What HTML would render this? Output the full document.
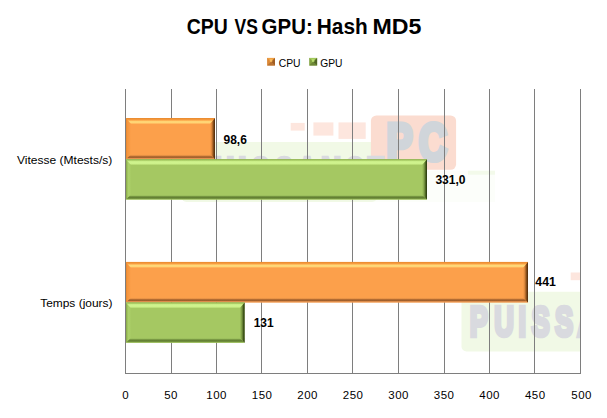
<!DOCTYPE html>
<html lang="fr"><head><meta charset="utf-8"><title>CPU VS GPU: Hash MD5</title>
<style>html,body{margin:0;padding:0;background:#fff;}body{width:607px;height:418px;overflow:hidden;}</style></head>
<body>
<svg width="607" height="418" viewBox="0 0 607 418" style="display:block">
<rect width="607" height="418" fill="#fff"/>
<defs><clipPath id="plot"><rect x="126" y="89" width="454" height="284"/></clipPath></defs>
<g clip-path="url(#plot)"><g transform="translate(181,142.1)"><rect x="186" y="28.6" width="128" height="31.2" fill="#FCFEFA"/><rect x="287" y="28.6" width="27" height="4" fill="#F3FAEA"/><rect x="0.5" y="0" width="195.5" height="59.8" rx="5" fill="#F1F9E6"/><rect x="189.9" y="-26.6" width="85.2" height="54.3" rx="5.5" fill="#FBDCD0"/><rect x="109.7" y="-19.2" width="14" height="7.7" fill="#FDE6DE"/><rect x="132.4" y="-19.7" width="20" height="13.2" fill="#FDE6DE"/><rect x="157.5" y="-19.7" width="27.2" height="16.5" fill="#FDE6DE"/><g font-family="'Liberation Sans', sans-serif" font-weight="bold"><text transform="translate(0,44.60) scale(0.272,0.4331)" x="32.5 122.4 211.7 259.4 345.5 427.6 515.4 601.1 682.2" y="0" font-size="100" fill="#D9DADF" stroke="#D9DADF" stroke-width="3.8" vector-effect="non-scaling-stroke" stroke-linejoin="miter">PUISSANCE</text><text transform="translate(0,17.50) scale(0.39,0.5160)" x="526.8 609.9" y="0" font-size="100" fill="#D0D5DA" stroke="#D0D5DA" stroke-width="4.6" vector-effect="non-scaling-stroke" stroke-linejoin="miter">PC</text></g></g><g transform="translate(461,291.7)"><rect x="186" y="28.6" width="128" height="31.2" fill="#FCFEFA"/><rect x="287" y="28.6" width="27" height="4" fill="#F3FAEA"/><rect x="0.5" y="0" width="195.5" height="59.8" rx="5" fill="#F1F9E6"/><rect x="189.9" y="-26.6" width="85.2" height="54.3" rx="5.5" fill="#FBDCD0"/><rect x="109.7" y="-19.2" width="14" height="7.7" fill="#FDE6DE"/><rect x="132.4" y="-19.7" width="20" height="13.2" fill="#FDE6DE"/><rect x="157.5" y="-19.7" width="27.2" height="16.5" fill="#FDE6DE"/><g font-family="'Liberation Sans', sans-serif" font-weight="bold"><text transform="translate(0,44.60) scale(0.272,0.4331)" x="32.5 122.4 211.7 259.4 345.5 427.6 515.4 601.1 682.2" y="0" font-size="100" fill="#D9DADF" stroke="#D9DADF" stroke-width="3.8" vector-effect="non-scaling-stroke" stroke-linejoin="miter">PUISSANCE</text><text transform="translate(0,17.50) scale(0.39,0.5160)" x="526.8 609.9" y="0" font-size="100" fill="#D0D5DA" stroke="#D0D5DA" stroke-width="4.6" vector-effect="non-scaling-stroke" stroke-linejoin="miter">PC</text></g></g></g>
<rect x="125" y="89" width="1" height="285" fill="#7E7E7E"/>
<rect x="171" y="89" width="1" height="285" fill="#7E7E7E"/>
<rect x="216" y="89" width="1" height="285" fill="#7E7E7E"/>
<rect x="261" y="89" width="1" height="285" fill="#7E7E7E"/>
<rect x="307" y="89" width="1" height="285" fill="#7E7E7E"/>
<rect x="352" y="89" width="1" height="285" fill="#7E7E7E"/>
<rect x="398" y="89" width="1" height="285" fill="#7E7E7E"/>
<rect x="444" y="89" width="1" height="285" fill="#7E7E7E"/>
<rect x="489" y="89" width="1" height="285" fill="#7E7E7E"/>
<rect x="534" y="89" width="1" height="285" fill="#7E7E7E"/>
<rect x="580" y="89" width="1" height="285" fill="#7E7E7E"/>
<rect x="125" y="373" width="456" height="1" fill="#7E7E7E"/>
<defs><linearGradient id="b1t" x1="0" y1="0" x2="0" y2="1"><stop offset="0" stop-color="#E88A2E"/><stop offset="0.2" stop-color="#F29438"/><stop offset="0.36" stop-color="#FBA448"/><stop offset="0.47" stop-color="#FFC868"/><stop offset="0.6" stop-color="#FFD878"/><stop offset="0.8" stop-color="#FFD474"/><stop offset="0.92" stop-color="#FFB65C"/><stop offset="1" stop-color="#FCA04B"/></linearGradient><linearGradient id="b1l" x1="0" y1="0" x2="1" y2="0"><stop offset="0" stop-color="#E4842C"/><stop offset="0.25" stop-color="#F4943C"/><stop offset="1" stop-color="#FCA04B"/></linearGradient><linearGradient id="b1b" x1="0" y1="0" x2="0" y2="1"><stop offset="0" stop-color="#FCA04B"/><stop offset="0.2" stop-color="#F09848"/><stop offset="0.38" stop-color="#B87034"/><stop offset="0.6" stop-color="#9C5C2A"/><stop offset="0.72" stop-color="#B87238"/><stop offset="0.85" stop-color="#E89450"/><stop offset="1" stop-color="#EE9C56"/></linearGradient><linearGradient id="b1r" x1="0" y1="0" x2="1" y2="0"><stop offset="0" stop-color="#FCA04B"/><stop offset="0.25" stop-color="#E89042"/><stop offset="0.55" stop-color="#A86426"/><stop offset="0.8" stop-color="#6A3C12"/><stop offset="1" stop-color="#4E2A0A"/></linearGradient></defs><rect x="126" y="118.1" width="89" height="41.20000000000002" fill="#FCA04B"/><polygon points="126,118.1 131,124.1 131,154.3 126,159.3" fill="url(#b1l)"/><polygon points="126,118.1 215,118.1 210,124.1 131,124.1" fill="url(#b1t)"/><polygon points="126,159.3 131,154.3 210,154.3 215,159.3" fill="url(#b1b)"/><polygon points="215,118.1 215,159.3 210,154.3 210,124.1" fill="url(#b1r)"/>
<defs><linearGradient id="b2t" x1="0" y1="0" x2="0" y2="1"><stop offset="0" stop-color="#8CB04C"/><stop offset="0.14" stop-color="#9CC058"/><stop offset="0.27" stop-color="#C4E882"/><stop offset="0.45" stop-color="#D0F48E"/><stop offset="0.75" stop-color="#CCF08A"/><stop offset="0.9" stop-color="#B4D870"/><stop offset="1" stop-color="#A5C862"/></linearGradient><linearGradient id="b2l" x1="0" y1="0" x2="1" y2="0"><stop offset="0" stop-color="#84A444"/><stop offset="0.2" stop-color="#98BA56"/><stop offset="0.45" stop-color="#ACD069"/><stop offset="0.8" stop-color="#AACE67"/><stop offset="1" stop-color="#A5C862"/></linearGradient><linearGradient id="b2b" x1="0" y1="0" x2="0" y2="1"><stop offset="0" stop-color="#A5C862"/><stop offset="0.22" stop-color="#9ABE5C"/><stop offset="0.42" stop-color="#6C8A3A"/><stop offset="0.68" stop-color="#5E7A30"/><stop offset="0.82" stop-color="#7C9C44"/><stop offset="1" stop-color="#9CC05C"/></linearGradient><linearGradient id="b2r" x1="0" y1="0" x2="1" y2="0"><stop offset="0" stop-color="#A5C862"/><stop offset="0.25" stop-color="#94B456"/><stop offset="0.55" stop-color="#6A8838"/><stop offset="0.8" stop-color="#3C5018"/><stop offset="1" stop-color="#28380E"/></linearGradient></defs><rect x="126" y="159.3" width="301" height="40.29999999999998" fill="#A5C862"/><polygon points="126,159.3 131,165.3 131,194.6 126,199.6" fill="url(#b2l)"/><polygon points="126,159.3 427,159.3 422,165.3 131,165.3" fill="url(#b2t)"/><polygon points="126,199.6 131,194.6 422,194.6 427,199.6" fill="url(#b2b)"/><polygon points="427,159.3 427,199.6 422,194.6 422,165.3" fill="url(#b2r)"/>
<defs><linearGradient id="b3t" x1="0" y1="0" x2="0" y2="1"><stop offset="0" stop-color="#E88A2E"/><stop offset="0.2" stop-color="#F29438"/><stop offset="0.36" stop-color="#FBA448"/><stop offset="0.47" stop-color="#FFC868"/><stop offset="0.6" stop-color="#FFD878"/><stop offset="0.8" stop-color="#FFD474"/><stop offset="0.92" stop-color="#FFB65C"/><stop offset="1" stop-color="#FCA04B"/></linearGradient><linearGradient id="b3l" x1="0" y1="0" x2="1" y2="0"><stop offset="0" stop-color="#E4842C"/><stop offset="0.25" stop-color="#F4943C"/><stop offset="1" stop-color="#FCA04B"/></linearGradient><linearGradient id="b3b" x1="0" y1="0" x2="0" y2="1"><stop offset="0" stop-color="#FCA04B"/><stop offset="0.2" stop-color="#F09848"/><stop offset="0.38" stop-color="#B87034"/><stop offset="0.6" stop-color="#9C5C2A"/><stop offset="0.72" stop-color="#B87238"/><stop offset="0.85" stop-color="#E89450"/><stop offset="1" stop-color="#EE9C56"/></linearGradient><linearGradient id="b3r" x1="0" y1="0" x2="1" y2="0"><stop offset="0" stop-color="#FCA04B"/><stop offset="0.25" stop-color="#E89042"/><stop offset="0.55" stop-color="#A86426"/><stop offset="0.8" stop-color="#6A3C12"/><stop offset="1" stop-color="#4E2A0A"/></linearGradient></defs><rect x="126" y="261.9" width="402" height="40.5" fill="#FCA04B"/><polygon points="126,261.9 131,267.9 131,297.4 126,302.4" fill="url(#b3l)"/><polygon points="126,261.9 528,261.9 523,267.9 131,267.9" fill="url(#b3t)"/><polygon points="126,302.4 131,297.4 523,297.4 528,302.4" fill="url(#b3b)"/><polygon points="528,261.9 528,302.4 523,297.4 523,267.9" fill="url(#b3r)"/>
<defs><linearGradient id="b4t" x1="0" y1="0" x2="0" y2="1"><stop offset="0" stop-color="#8CB04C"/><stop offset="0.14" stop-color="#9CC058"/><stop offset="0.27" stop-color="#C4E882"/><stop offset="0.45" stop-color="#D0F48E"/><stop offset="0.75" stop-color="#CCF08A"/><stop offset="0.9" stop-color="#B4D870"/><stop offset="1" stop-color="#A5C862"/></linearGradient><linearGradient id="b4l" x1="0" y1="0" x2="1" y2="0"><stop offset="0" stop-color="#84A444"/><stop offset="0.2" stop-color="#98BA56"/><stop offset="0.45" stop-color="#ACD069"/><stop offset="0.8" stop-color="#AACE67"/><stop offset="1" stop-color="#A5C862"/></linearGradient><linearGradient id="b4b" x1="0" y1="0" x2="0" y2="1"><stop offset="0" stop-color="#A5C862"/><stop offset="0.22" stop-color="#9ABE5C"/><stop offset="0.42" stop-color="#6C8A3A"/><stop offset="0.68" stop-color="#5E7A30"/><stop offset="0.82" stop-color="#7C9C44"/><stop offset="1" stop-color="#9CC05C"/></linearGradient><linearGradient id="b4r" x1="0" y1="0" x2="1" y2="0"><stop offset="0" stop-color="#A5C862"/><stop offset="0.25" stop-color="#94B456"/><stop offset="0.55" stop-color="#6A8838"/><stop offset="0.8" stop-color="#3C5018"/><stop offset="1" stop-color="#28380E"/></linearGradient></defs><rect x="126" y="302.4" width="118.6" height="40.30000000000001" fill="#A5C862"/><polygon points="126,302.4 131,308.4 131,337.7 126,342.7" fill="url(#b4l)"/><polygon points="126,302.4 244.6,302.4 239.6,308.4 131,308.4" fill="url(#b4t)"/><polygon points="126,342.7 131,337.7 239.6,337.7 244.6,342.7" fill="url(#b4b)"/><polygon points="244.6,302.4 244.6,342.7 239.6,337.7 239.6,308.4" fill="url(#b4r)"/>
<text y="34.0" font-family="'Liberation Sans', sans-serif" font-weight="bold" font-size="22" fill="#000"><tspan x="186.7" textLength="41" lengthAdjust="spacingAndGlyphs">CPU</tspan> <tspan x="234.5" textLength="23.3" lengthAdjust="spacingAndGlyphs">VS</tspan> <tspan x="261.6" textLength="51.1" lengthAdjust="spacingAndGlyphs">GPU:</tspan> <tspan x="316.8" textLength="50.9" lengthAdjust="spacingAndGlyphs">Hash</tspan> <tspan x="372.4" textLength="48.9" lengthAdjust="spacingAndGlyphs">MD5</tspan></text>
<rect x="267.1" y="57.9" width="7.9" height="7.6" fill="#DC8836"/><polygon points="267.1,57.9 275.0,57.9 271.05,61.699999999999996" fill="#EFA044"/><polygon points="275.0,57.9 275.0,65.5 271.05,61.699999999999996" fill="#A05E24"/><polygon points="267.1,65.5 275.0,65.5 271.05,61.699999999999996" fill="#B87232"/><rect x="269.85" y="59.199999999999996" width="2.4" height="2.6" fill="#F8BC5C"/>
<rect x="309.2" y="57.9" width="7.9" height="7.6" fill="#82A240"/><polygon points="309.2,57.9 317.09999999999997,57.9 313.15,61.699999999999996" fill="#A2C85C"/><polygon points="317.09999999999997,57.9 317.09999999999997,65.5 313.15,61.699999999999996" fill="#506626"/><polygon points="309.2,65.5 317.09999999999997,65.5 313.15,61.699999999999996" fill="#6C8636"/><rect x="311.95" y="59.199999999999996" width="2.4" height="2.6" fill="#B8DC70"/>
<text x="278.7" y="66.5" font-family="'Liberation Sans', sans-serif" font-size="10.5" textLength="21.8" lengthAdjust="spacingAndGlyphs" fill="#000">CPU</text>
<text x="320.2" y="66.5" font-family="'Liberation Sans', sans-serif" font-size="10.5" textLength="22.2" lengthAdjust="spacingAndGlyphs" fill="#000">GPU</text>
<text x="17.0" y="163.5" font-family="'Liberation Sans', sans-serif" font-size="11.2" textLength="95.3" lengthAdjust="spacingAndGlyphs" fill="#000">Vitesse (Mtests/s)</text>
<text x="40.2" y="306.6" font-family="'Liberation Sans', sans-serif" font-size="11.2" textLength="72.3" lengthAdjust="spacingAndGlyphs" fill="#000">Temps (jours)</text>
<text x="223.5" y="143.6" font-family="'Liberation Sans', sans-serif" font-weight="bold" font-size="12.4" textLength="23.3" lengthAdjust="spacingAndGlyphs" fill="#000">98,6</text>
<text x="435.4" y="184.4" font-family="'Liberation Sans', sans-serif" font-weight="bold" font-size="12.4" textLength="30.2" lengthAdjust="spacingAndGlyphs" fill="#000">331,0</text>
<text x="535.3" y="286.4" font-family="'Liberation Sans', sans-serif" font-weight="bold" font-size="12.4" textLength="20.5" lengthAdjust="spacingAndGlyphs" fill="#000">441</text>
<text x="253.7" y="327" font-family="'Liberation Sans', sans-serif" font-weight="bold" font-size="12.4" textLength="20" lengthAdjust="spacingAndGlyphs" fill="#000">131</text>
<text x="125.8" y="399" font-family="'Liberation Sans', sans-serif" font-size="11.5" letter-spacing="0.45" text-anchor="middle" fill="#000">0</text>
<text x="171.1" y="399" font-family="'Liberation Sans', sans-serif" font-size="11.5" letter-spacing="0.45" text-anchor="middle" fill="#000">50</text>
<text x="216.6" y="399" font-family="'Liberation Sans', sans-serif" font-size="11.5" letter-spacing="0.45" text-anchor="middle" fill="#000">100</text>
<text x="262.1" y="399" font-family="'Liberation Sans', sans-serif" font-size="11.5" letter-spacing="0.45" text-anchor="middle" fill="#000">150</text>
<text x="307.6" y="399" font-family="'Liberation Sans', sans-serif" font-size="11.5" letter-spacing="0.45" text-anchor="middle" fill="#000">200</text>
<text x="353.1" y="399" font-family="'Liberation Sans', sans-serif" font-size="11.5" letter-spacing="0.45" text-anchor="middle" fill="#000">250</text>
<text x="398.6" y="399" font-family="'Liberation Sans', sans-serif" font-size="11.5" letter-spacing="0.45" text-anchor="middle" fill="#000">300</text>
<text x="444.1" y="399" font-family="'Liberation Sans', sans-serif" font-size="11.5" letter-spacing="0.45" text-anchor="middle" fill="#000">350</text>
<text x="489.6" y="399" font-family="'Liberation Sans', sans-serif" font-size="11.5" letter-spacing="0.45" text-anchor="middle" fill="#000">400</text>
<text x="535.3" y="399" font-family="'Liberation Sans', sans-serif" font-size="11.5" letter-spacing="0.45" text-anchor="middle" fill="#000">450</text>
<text x="581.6" y="399" font-family="'Liberation Sans', sans-serif" font-size="11.5" letter-spacing="0.45" text-anchor="middle" fill="#000">500</text>
</svg>
</body></html>
